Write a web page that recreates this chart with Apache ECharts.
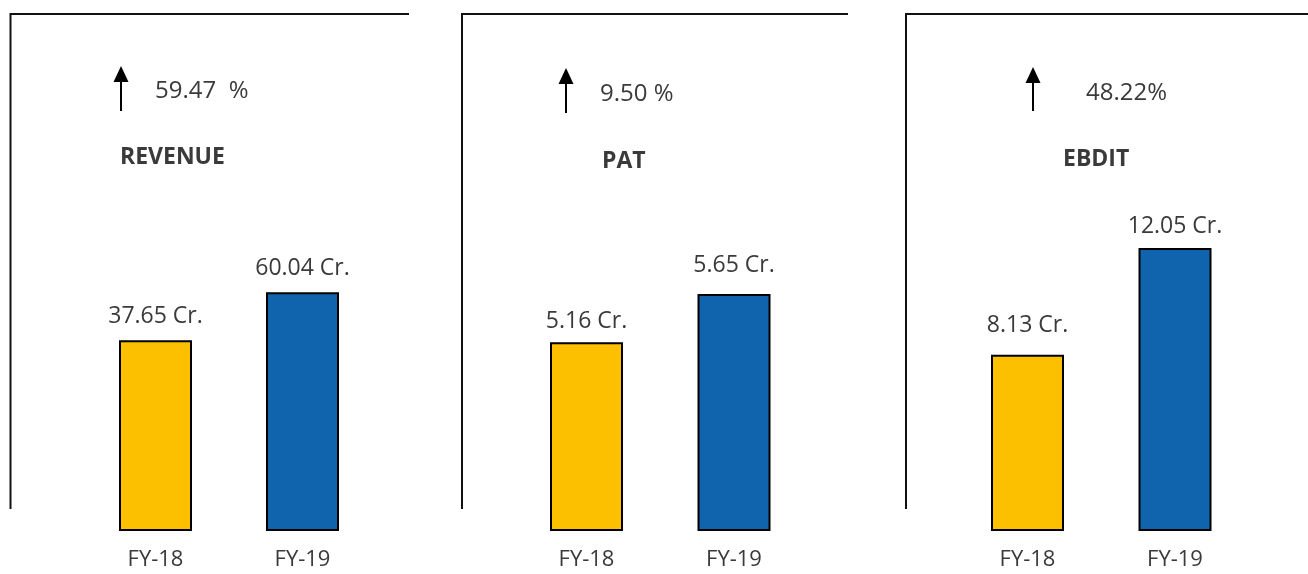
<!DOCTYPE html>
<html>
<head>
<meta charset="utf-8">
<script src="https://cdn.jsdelivr.net/npm/echarts@6/dist/echarts.min.js"></script>
<style>
html,body{margin:0;padding:0;background:#fff;}
#chart{width:1308px;height:574px;}
</style>
</head>
<body>
<div id="chart"></div>
<script>
// ---- data ----
const categories = ['FY-18', 'FY-19'];
const panelTitles = ['REVENUE', 'PAT', 'EBDIT'];
const growthLabels = ['59.47  %', '9.50 %', '48.22%'];
const revenueValues = [37.65, 60.04];
const patValues = [5.16, 5.65];
const ebditValues = [8.13, 12.05];
const unitSuffix = ' Cr.';

// ---- layout / style ----
const FONT = "'Open Sans', 'Noto Sans', sans-serif";
const TEXT = '#3a3a3a';
const barColors = ['#FCC000', '#1064AD'];
const panelValues = [revenueValues, patValues, ebditValues];
const gridLefts = [82, 512.75, 953.75];
const gridWidths = [294, 295, 295];
const axisRanges = [[-51.3, 189.87], [3.246, 8.491], [1.654, 20.65]];
const labelGaps = [[12, 12], [9, 17], [18, 10]];
const frames = [[10.5, 409], [462, 848], [906, 1308]];
const arrows = [[121, 66, 111], [566, 68, 113], [1033, 67, 111]];
const growthPos = [[155, 91], [600, 94], [1086, 93]];
const titlePos = [[120, 157], [602, 161], [1063, 159]];

const grid = [], xAxis = [], yAxis = [], series = [], graphic = [];
panelValues.forEach(function (vals, i) {
  grid.push({ left: gridLefts[i], width: gridWidths[i], top: 14, height: 517 });
  xAxis.push({
    type: 'category', gridIndex: i, data: categories,
    axisLine: { show: false }, axisTick: { show: false },
    axisLabel: { fontFamily: FONT, fontSize: 22, color: TEXT, margin: 18 }
  });
  yAxis.push({
    type: 'value', gridIndex: i, min: axisRanges[i][0], max: axisRanges[i][1],
    startValue: axisRanges[i][0], show: false, splitLine: { show: false }
  });
  series.push({
    type: 'bar', xAxisIndex: i, yAxisIndex: i, barWidth: 73, animation: false,
    data: vals.map(function (v, j) {
      return {
        value: v,
        itemStyle: { color: barColors[j], borderColor: '#000', borderWidth: 2 },
        label: {
          show: true, position: 'top', distance: labelGaps[i][j],
          formatter: function (p) { return p.value.toFixed(2) + unitSuffix; },
          fontFamily: FONT, fontSize: 23, color: TEXT
        }
      };
    })
  });
  // frame lines
  graphic.push({ type: 'line', shape: { x1: frames[i][0], y1: 14, x2: frames[i][1], y2: 14 },
    style: { stroke: '#111', lineWidth: 2 }, silent: true });
  graphic.push({ type: 'line', shape: { x1: frames[i][0], y1: 13, x2: frames[i][0], y2: 509 },
    style: { stroke: '#111', lineWidth: 2 }, silent: true });
  // arrow
  const a = arrows[i];
  graphic.push({ type: 'line', shape: { x1: a[0], y1: a[1] + 14, x2: a[0], y2: a[2] },
    style: { stroke: '#000', lineWidth: 2 }, silent: true });
  graphic.push({ type: 'polygon', shape: { points: [[a[0], a[1]], [a[0] - 7.5, a[1] + 16], [a[0] + 7.5, a[1] + 16]] },
    style: { fill: '#000' }, silent: true });
  // growth text
  graphic.push({ type: 'text', x: growthPos[i][0], y: growthPos[i][1],
    style: { text: growthLabels[i], font: '24px ' + FONT, fill: TEXT, textVerticalAlign: 'middle', verticalAlign: 'middle' }, silent: true });
  // title
  graphic.push({ type: 'text', x: titlePos[i][0], y: titlePos[i][1],
    style: { text: panelTitles[i], font: 'bold 23px ' + FONT, fill: TEXT, textVerticalAlign: 'middle', verticalAlign: 'middle' }, silent: true });
});

const chart = echarts.init(document.getElementById('chart'), null, { renderer: 'canvas' });
chart.setOption({
  animation: false,
  backgroundColor: '#fff',
  grid: grid, xAxis: xAxis, yAxis: yAxis, series: series, graphic: graphic
});
</script>
</body>
</html>
